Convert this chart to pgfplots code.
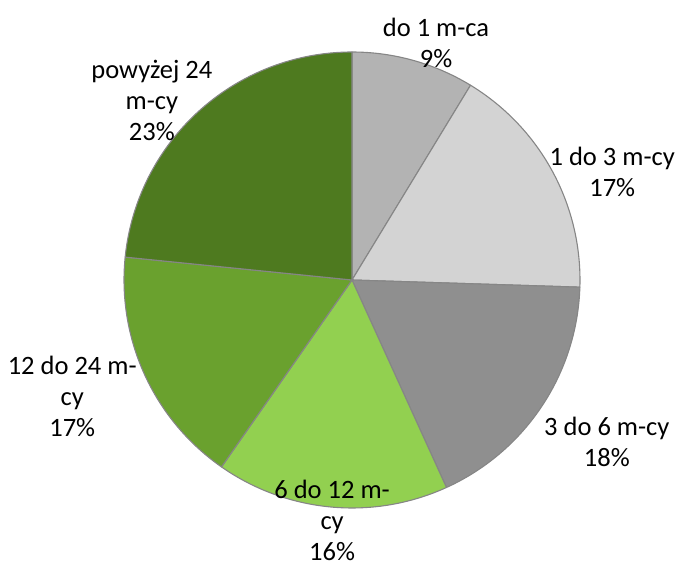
\documentclass[border=0pt]{standalone}
\usepackage{pgfplots}
\pgfplotsset{compat=1.18}
\usepackage{fontspec}
\setmainfont{Carlito}
\definecolor{c1}{HTML}{B3B3B3}
\definecolor{c2}{HTML}{D3D3D3}
\definecolor{c3}{HTML}{8F8F8F}
\definecolor{c4}{HTML}{92D050}
\definecolor{c5}{HTML}{6AA12E}
\definecolor{c6}{HTML}{4E7A1F}
\definecolor{bord}{HTML}{868686}
\begin{document}
\begin{tikzpicture}
\begin{axis}[
  width=675pt, height=567pt, scale only axis,
  xmin=-1.5439, xmax=1.4167, ymin=-1.2588, ymax=1.2281,
  hide axis, clip=false,
]
\gdef\cum{0}
\pgfplotsforeachungrouped \v/\c in {8.7/c1, 16.8/c2, 17.7/c3, 16.5/c4, 16.9/c5, 23.4/c6} {
  \pgfmathsetmacro\angA{90-3.6*(\cum+\v)}
  \pgfmathsetmacro\angB{90-3.6*\cum}
  \edef\temp{\noexpand\addplot[fill=\c, draw=bord, line width=1.1pt, line join=round, domain=\angA:\angB, samples=80] ({cos(x)},{sin(x)}) -- (axis cs:0,0) -- cycle;}
  \temp
  \pgfmathsetmacro\newcum{\cum+\v}
  \xdef\cum{\newcum}
}
\tikzset{lbl/.style={align=center, inner sep=0pt, font=\fontsize{26.5}{31}\selectfont}}
\node[lbl] at (rel axis cs:0.646,0.925) {do 1 m-ca\\9\%};
\node[lbl] at (rel axis cs:0.907,0.697) {1 do 3 m-cy\\17\%};
\node[lbl] at (rel axis cs:0.899,0.220) {3 do 6 m-cy\\18\%};
\node[lbl] at (rel axis cs:0.492,0.082) {6 do 12 m-\\cy\\16\%};
\node[lbl] at (rel axis cs:0.107,0.300) {12 do 24 m-\\cy\\17\%};
\node[lbl] at (rel axis cs:0.225,0.822) {powyżej 24\\m-cy\\23\%};
\end{axis}
\path (current axis.south west) rectangle (current axis.north east);
\end{tikzpicture}
\end{document}
